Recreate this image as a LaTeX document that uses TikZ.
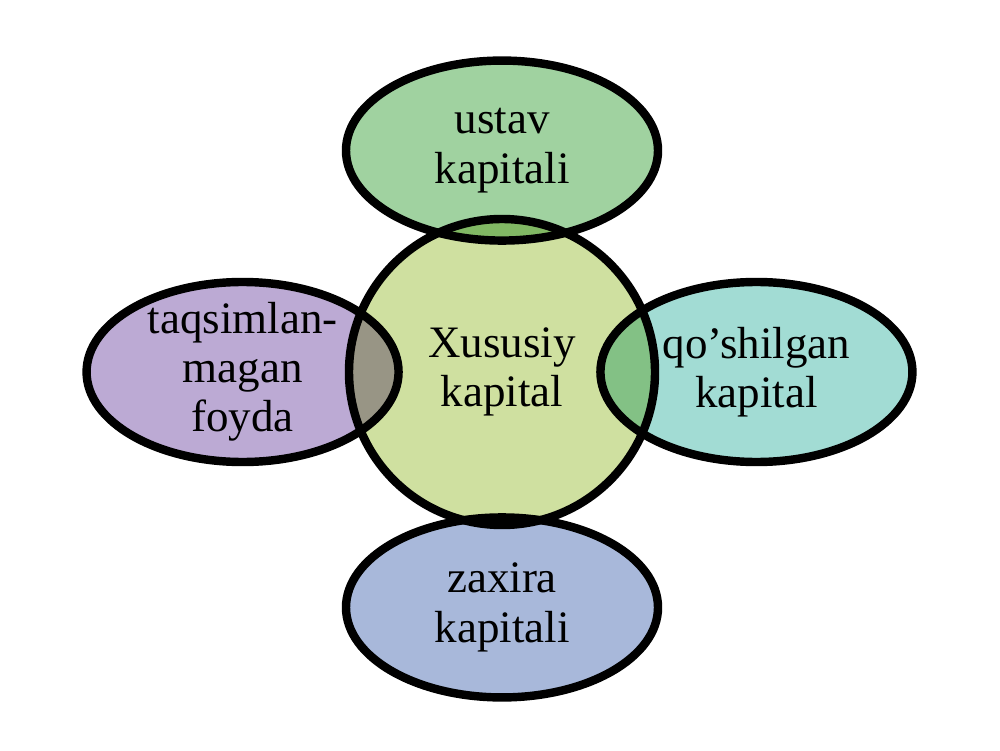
\documentclass[tikz,border=0pt]{standalone}
\usepackage{fontspec}
\setmainfont{Liberation Serif}
\usetikzlibrary{shapes.geometric}
\usetikzlibrary{positioning}
\definecolor{capgreen}{RGB}{207,224,160}
\definecolor{ustavgreen}{RGB}{160,210,160}
\definecolor{qoshteal}{RGB}{162,220,212}
\definecolor{zaxblue}{RGB}{168,184,218}
\definecolor{foypurple}{RGB}{188,170,212}
\tikzset{main node/.style={circle,draw,fill=capgreen,line width=6pt,minimum size=7.65cm,inner sep=0pt,
    font=\fontsize{32}{35}\selectfont,align=center},
  part node/.style={ellipse,draw,line width=6pt,minimum width=7.8cm,minimum height=4.5cm,inner sep=0pt,
    font=\fontsize{32}{35}\selectfont,align=center,blend mode=multiply},}

\begin{document}
\begin{tikzpicture}
  \useasboundingbox (0,0) rectangle (25,18.75);
  \node[main node] (xk) at (12.55,9.45) {Xususiy\\kapital};
  \node[part node,fill=ustavgreen] (ustav) [above=-0.75cm of xk] {ustav\\kapitali};
  \node[part node,fill=qoshteal] (qoshilgan) [right=-1.575cm of xk] {qo’shilgan\\kapital};
  \node[part node,fill=zaxblue] (zaxira) [below=-0.4cm of xk] {zaxira\\kapitali};
  \node[part node,fill=foypurple,inner ysep=-3mm] (foyda) [left=-1.45cm of xk] {taqsimlan-\\magan\\foyda};
\end{tikzpicture}
\end{document}
